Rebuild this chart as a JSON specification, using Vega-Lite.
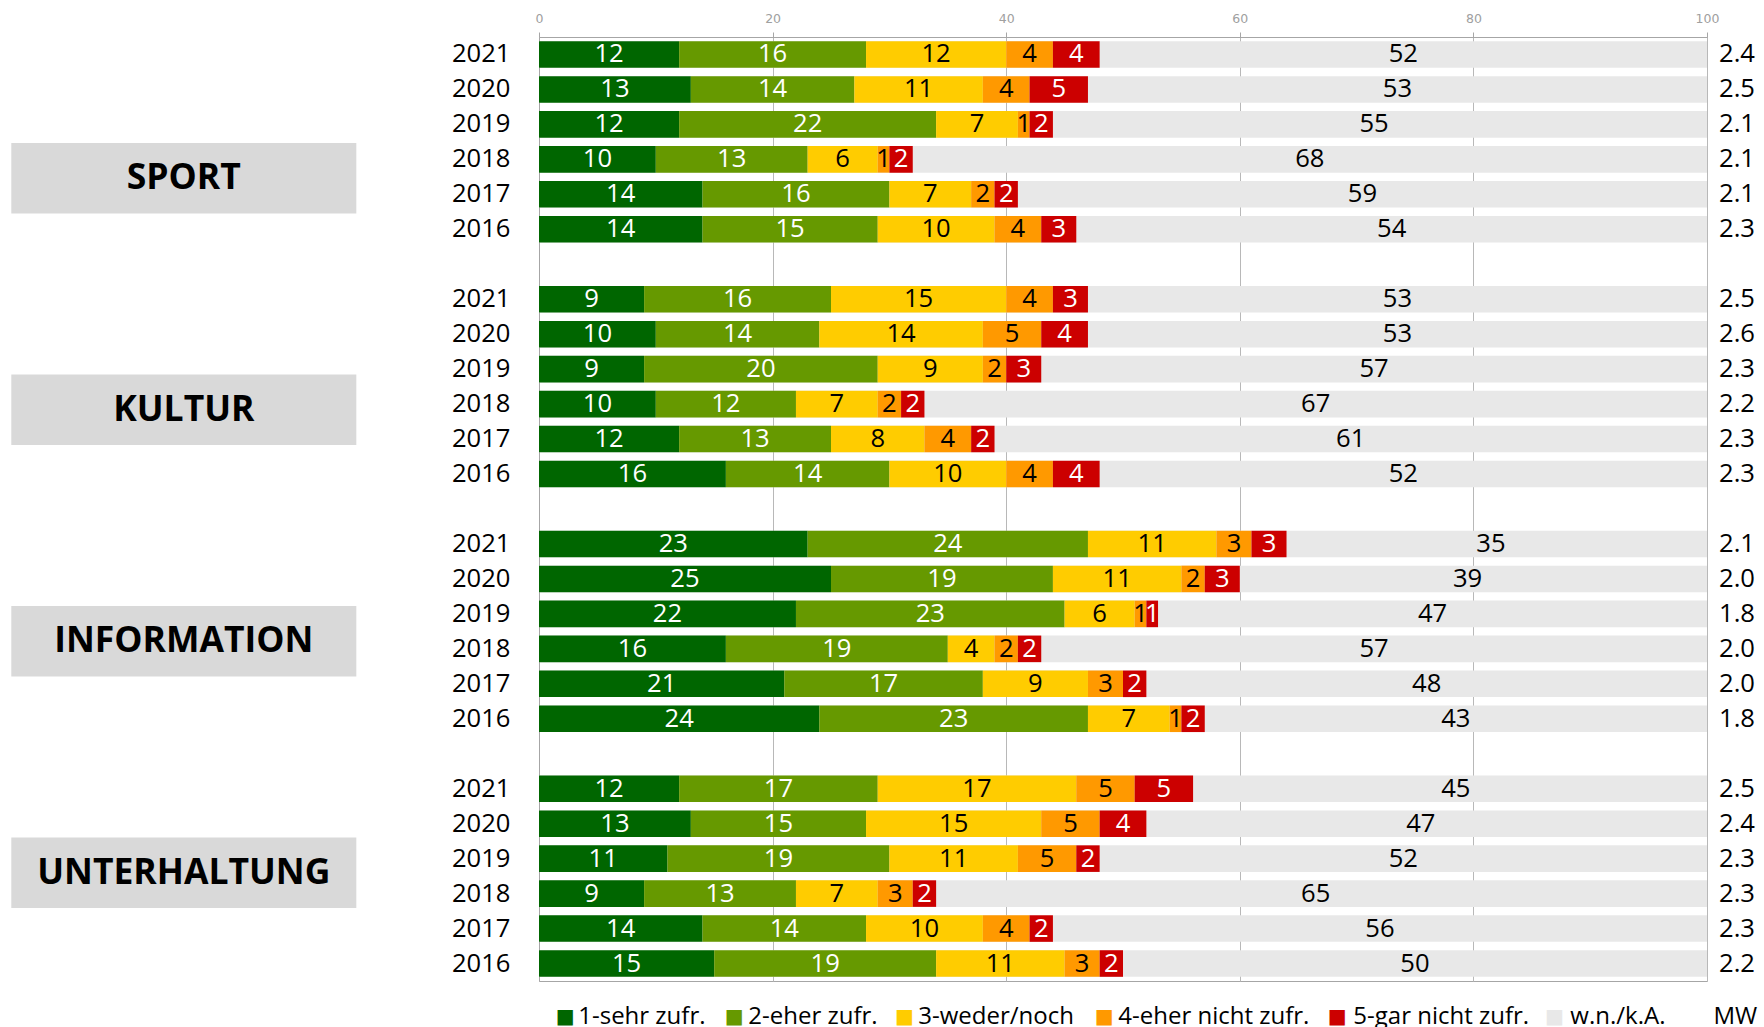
{
  "$schema": "https://vega.github.io/schema/vega-lite/v6.json",
  "autosize": {"type": "none"},
  "padding": {"left": 539, "top": 37, "right": 57, "bottom": 46},
  "width": 1168,
  "height": 944,
  "background": "white",
  "config": {"view": {"stroke": "#a6a6a6", "strokeWidth": 1}, "font": "Open Sans"},
  "data": {"values": [
      {"row":"SPORT 2021","cat":"1-sehr zufr.","v":12},{"row":"SPORT 2021","cat":"2-eher zufr.","v":16},{"row":"SPORT 2021","cat":"3-weder/noch","v":12},{"row":"SPORT 2021","cat":"4-eher nicht zufr.","v":4},{"row":"SPORT 2021","cat":"5-gar nicht zufr.","v":4},{"row":"SPORT 2021","cat":"w.n./k.A.","v":52},
      {"row":"SPORT 2020","cat":"1-sehr zufr.","v":13},{"row":"SPORT 2020","cat":"2-eher zufr.","v":14},{"row":"SPORT 2020","cat":"3-weder/noch","v":11},{"row":"SPORT 2020","cat":"4-eher nicht zufr.","v":4},{"row":"SPORT 2020","cat":"5-gar nicht zufr.","v":5},{"row":"SPORT 2020","cat":"w.n./k.A.","v":53},
      {"row":"SPORT 2019","cat":"1-sehr zufr.","v":12},{"row":"SPORT 2019","cat":"2-eher zufr.","v":22},{"row":"SPORT 2019","cat":"3-weder/noch","v":7},{"row":"SPORT 2019","cat":"4-eher nicht zufr.","v":1},{"row":"SPORT 2019","cat":"5-gar nicht zufr.","v":2},{"row":"SPORT 2019","cat":"w.n./k.A.","v":55},
      {"row":"SPORT 2018","cat":"1-sehr zufr.","v":10},{"row":"SPORT 2018","cat":"2-eher zufr.","v":13},{"row":"SPORT 2018","cat":"3-weder/noch","v":6},{"row":"SPORT 2018","cat":"4-eher nicht zufr.","v":1},{"row":"SPORT 2018","cat":"5-gar nicht zufr.","v":2},{"row":"SPORT 2018","cat":"w.n./k.A.","v":68},
      {"row":"SPORT 2017","cat":"1-sehr zufr.","v":14},{"row":"SPORT 2017","cat":"2-eher zufr.","v":16},{"row":"SPORT 2017","cat":"3-weder/noch","v":7},{"row":"SPORT 2017","cat":"4-eher nicht zufr.","v":2},{"row":"SPORT 2017","cat":"5-gar nicht zufr.","v":2},{"row":"SPORT 2017","cat":"w.n./k.A.","v":59},
      {"row":"SPORT 2016","cat":"1-sehr zufr.","v":14},{"row":"SPORT 2016","cat":"2-eher zufr.","v":15},{"row":"SPORT 2016","cat":"3-weder/noch","v":10},{"row":"SPORT 2016","cat":"4-eher nicht zufr.","v":4},{"row":"SPORT 2016","cat":"5-gar nicht zufr.","v":3},{"row":"SPORT 2016","cat":"w.n./k.A.","v":54},
      {"row":"KULTUR 2021","cat":"1-sehr zufr.","v":9},{"row":"KULTUR 2021","cat":"2-eher zufr.","v":16},{"row":"KULTUR 2021","cat":"3-weder/noch","v":15},{"row":"KULTUR 2021","cat":"4-eher nicht zufr.","v":4},{"row":"KULTUR 2021","cat":"5-gar nicht zufr.","v":3},{"row":"KULTUR 2021","cat":"w.n./k.A.","v":53},
      {"row":"KULTUR 2020","cat":"1-sehr zufr.","v":10},{"row":"KULTUR 2020","cat":"2-eher zufr.","v":14},{"row":"KULTUR 2020","cat":"3-weder/noch","v":14},{"row":"KULTUR 2020","cat":"4-eher nicht zufr.","v":5},{"row":"KULTUR 2020","cat":"5-gar nicht zufr.","v":4},{"row":"KULTUR 2020","cat":"w.n./k.A.","v":53},
      {"row":"KULTUR 2019","cat":"1-sehr zufr.","v":9},{"row":"KULTUR 2019","cat":"2-eher zufr.","v":20},{"row":"KULTUR 2019","cat":"3-weder/noch","v":9},{"row":"KULTUR 2019","cat":"4-eher nicht zufr.","v":2},{"row":"KULTUR 2019","cat":"5-gar nicht zufr.","v":3},{"row":"KULTUR 2019","cat":"w.n./k.A.","v":57},
      {"row":"KULTUR 2018","cat":"1-sehr zufr.","v":10},{"row":"KULTUR 2018","cat":"2-eher zufr.","v":12},{"row":"KULTUR 2018","cat":"3-weder/noch","v":7},{"row":"KULTUR 2018","cat":"4-eher nicht zufr.","v":2},{"row":"KULTUR 2018","cat":"5-gar nicht zufr.","v":2},{"row":"KULTUR 2018","cat":"w.n./k.A.","v":67},
      {"row":"KULTUR 2017","cat":"1-sehr zufr.","v":12},{"row":"KULTUR 2017","cat":"2-eher zufr.","v":13},{"row":"KULTUR 2017","cat":"3-weder/noch","v":8},{"row":"KULTUR 2017","cat":"4-eher nicht zufr.","v":4},{"row":"KULTUR 2017","cat":"5-gar nicht zufr.","v":2},{"row":"KULTUR 2017","cat":"w.n./k.A.","v":61},
      {"row":"KULTUR 2016","cat":"1-sehr zufr.","v":16},{"row":"KULTUR 2016","cat":"2-eher zufr.","v":14},{"row":"KULTUR 2016","cat":"3-weder/noch","v":10},{"row":"KULTUR 2016","cat":"4-eher nicht zufr.","v":4},{"row":"KULTUR 2016","cat":"5-gar nicht zufr.","v":4},{"row":"KULTUR 2016","cat":"w.n./k.A.","v":52},
      {"row":"INFORMATION 2021","cat":"1-sehr zufr.","v":23},{"row":"INFORMATION 2021","cat":"2-eher zufr.","v":24},{"row":"INFORMATION 2021","cat":"3-weder/noch","v":11},{"row":"INFORMATION 2021","cat":"4-eher nicht zufr.","v":3},{"row":"INFORMATION 2021","cat":"5-gar nicht zufr.","v":3},{"row":"INFORMATION 2021","cat":"w.n./k.A.","v":35},
      {"row":"INFORMATION 2020","cat":"1-sehr zufr.","v":25},{"row":"INFORMATION 2020","cat":"2-eher zufr.","v":19},{"row":"INFORMATION 2020","cat":"3-weder/noch","v":11},{"row":"INFORMATION 2020","cat":"4-eher nicht zufr.","v":2},{"row":"INFORMATION 2020","cat":"5-gar nicht zufr.","v":3},{"row":"INFORMATION 2020","cat":"w.n./k.A.","v":39},
      {"row":"INFORMATION 2019","cat":"1-sehr zufr.","v":22},{"row":"INFORMATION 2019","cat":"2-eher zufr.","v":23},{"row":"INFORMATION 2019","cat":"3-weder/noch","v":6},{"row":"INFORMATION 2019","cat":"4-eher nicht zufr.","v":1},{"row":"INFORMATION 2019","cat":"5-gar nicht zufr.","v":1},{"row":"INFORMATION 2019","cat":"w.n./k.A.","v":47},
      {"row":"INFORMATION 2018","cat":"1-sehr zufr.","v":16},{"row":"INFORMATION 2018","cat":"2-eher zufr.","v":19},{"row":"INFORMATION 2018","cat":"3-weder/noch","v":4},{"row":"INFORMATION 2018","cat":"4-eher nicht zufr.","v":2},{"row":"INFORMATION 2018","cat":"5-gar nicht zufr.","v":2},{"row":"INFORMATION 2018","cat":"w.n./k.A.","v":57},
      {"row":"INFORMATION 2017","cat":"1-sehr zufr.","v":21},{"row":"INFORMATION 2017","cat":"2-eher zufr.","v":17},{"row":"INFORMATION 2017","cat":"3-weder/noch","v":9},{"row":"INFORMATION 2017","cat":"4-eher nicht zufr.","v":3},{"row":"INFORMATION 2017","cat":"5-gar nicht zufr.","v":2},{"row":"INFORMATION 2017","cat":"w.n./k.A.","v":48},
      {"row":"INFORMATION 2016","cat":"1-sehr zufr.","v":24},{"row":"INFORMATION 2016","cat":"2-eher zufr.","v":23},{"row":"INFORMATION 2016","cat":"3-weder/noch","v":7},{"row":"INFORMATION 2016","cat":"4-eher nicht zufr.","v":1},{"row":"INFORMATION 2016","cat":"5-gar nicht zufr.","v":2},{"row":"INFORMATION 2016","cat":"w.n./k.A.","v":43},
      {"row":"UNTERHALTUNG 2021","cat":"1-sehr zufr.","v":12},{"row":"UNTERHALTUNG 2021","cat":"2-eher zufr.","v":17},{"row":"UNTERHALTUNG 2021","cat":"3-weder/noch","v":17},{"row":"UNTERHALTUNG 2021","cat":"4-eher nicht zufr.","v":5},{"row":"UNTERHALTUNG 2021","cat":"5-gar nicht zufr.","v":5},{"row":"UNTERHALTUNG 2021","cat":"w.n./k.A.","v":45},
      {"row":"UNTERHALTUNG 2020","cat":"1-sehr zufr.","v":13},{"row":"UNTERHALTUNG 2020","cat":"2-eher zufr.","v":15},{"row":"UNTERHALTUNG 2020","cat":"3-weder/noch","v":15},{"row":"UNTERHALTUNG 2020","cat":"4-eher nicht zufr.","v":5},{"row":"UNTERHALTUNG 2020","cat":"5-gar nicht zufr.","v":4},{"row":"UNTERHALTUNG 2020","cat":"w.n./k.A.","v":47},
      {"row":"UNTERHALTUNG 2019","cat":"1-sehr zufr.","v":11},{"row":"UNTERHALTUNG 2019","cat":"2-eher zufr.","v":19},{"row":"UNTERHALTUNG 2019","cat":"3-weder/noch","v":11},{"row":"UNTERHALTUNG 2019","cat":"4-eher nicht zufr.","v":5},{"row":"UNTERHALTUNG 2019","cat":"5-gar nicht zufr.","v":2},{"row":"UNTERHALTUNG 2019","cat":"w.n./k.A.","v":52},
      {"row":"UNTERHALTUNG 2018","cat":"1-sehr zufr.","v":9},{"row":"UNTERHALTUNG 2018","cat":"2-eher zufr.","v":13},{"row":"UNTERHALTUNG 2018","cat":"3-weder/noch","v":7},{"row":"UNTERHALTUNG 2018","cat":"4-eher nicht zufr.","v":3},{"row":"UNTERHALTUNG 2018","cat":"5-gar nicht zufr.","v":2},{"row":"UNTERHALTUNG 2018","cat":"w.n./k.A.","v":65},
      {"row":"UNTERHALTUNG 2017","cat":"1-sehr zufr.","v":14},{"row":"UNTERHALTUNG 2017","cat":"2-eher zufr.","v":14},{"row":"UNTERHALTUNG 2017","cat":"3-weder/noch","v":10},{"row":"UNTERHALTUNG 2017","cat":"4-eher nicht zufr.","v":4},{"row":"UNTERHALTUNG 2017","cat":"5-gar nicht zufr.","v":2},{"row":"UNTERHALTUNG 2017","cat":"w.n./k.A.","v":56},
      {"row":"UNTERHALTUNG 2016","cat":"1-sehr zufr.","v":15},{"row":"UNTERHALTUNG 2016","cat":"2-eher zufr.","v":19},{"row":"UNTERHALTUNG 2016","cat":"3-weder/noch","v":11},{"row":"UNTERHALTUNG 2016","cat":"4-eher nicht zufr.","v":3},{"row":"UNTERHALTUNG 2016","cat":"5-gar nicht zufr.","v":2},{"row":"UNTERHALTUNG 2016","cat":"w.n./k.A.","v":50}
  ]},
  "resolve": {"scale": {"y": "independent"}},
  "layer": [
    {
      "data": {"values": [{"group":"SPORT"},{"group":"KULTUR"},{"group":"INFORMATION"},{"group":"UNTERHALTUNG"}]},
      "encoding": {
        "y": {"field": "group", "type": "nominal",
          "scale": {"domain": ["SPORT","KULTUR","INFORMATION","UNTERHALTUNG"], "paddingInner": 0.695, "paddingOuter": 0.3864, "align": 0.5925},
          "axis": null}
      },
      "layer": [
        {"mark": {"type": "bar", "color": "#D9D9D9", "clip": false},
         "encoding": {
           "x": {"datum": -45.18, "type": "quantitative",
             "scale": {"domain": [0, 100], "nice": false},
             "axis": {"orient": "top", "values": [0, 20, 40, 60, 80, 100], "title": null, "tickSize": 5, "tickColor": "#a6a6a6",
               "domainColor": "#a6a6a6", "labelFont": "DejaVu Sans", "labelFontSize": 12.5, "labelColor": "#a0a0a0",
               "labelPadding": 6.5, "labelFlush": false, "grid": true, "gridColor": "#b8b8b8"}},
           "x2": {"datum": -15.64}}},
        {"mark": {"type": "text", "font": "Open Sans", "fontWeight": "bold", "fontSize": 35.5, "color": "#000000", "baseline": "middle", "align": "center", "clip": false},
         "encoding": {"x": {"datum": -30.41, "type": "quantitative"}, "text": {"field": "group", "type": "nominal"}}}
      ]
    },
    {
      "encoding": {
        "y": {"field": "row", "type": "nominal",
          "scale": {"domain": ["SPORT 2021","SPORT 2020","SPORT 2019","SPORT 2018","SPORT 2017","SPORT 2016","gap1","KULTUR 2021","KULTUR 2020","KULTUR 2019","KULTUR 2018","KULTUR 2017","KULTUR 2016","gap2","INFORMATION 2021","INFORMATION 2020","INFORMATION 2019","INFORMATION 2018","INFORMATION 2017","INFORMATION 2016","gap3","UNTERHALTUNG 2021","UNTERHALTUNG 2020","UNTERHALTUNG 2019","UNTERHALTUNG 2018","UNTERHALTUNG 2017","UNTERHALTUNG 2016"],
            "paddingInner": 0.24, "paddingOuter": 0.12},
          "axis": {"title": null, "orient": "left", "labelExpr": "length(datum.value) > 4 ? slice(datum.value, -4) : ''",
            "labelFont": "Open Sans", "labelFontSize": 25.6, "labelColor": "#000000", "labelPadding": 29,
            "ticks": false, "domainColor": "#a6a6a6", "grid": false}}
      },
      "layer": [
        {
          "data": {"values": [
            {"row":"SPORT 2021","mw":"2.4"},{"row":"SPORT 2020","mw":"2.5"},{"row":"SPORT 2019","mw":"2.1"},{"row":"SPORT 2018","mw":"2.1"},{"row":"SPORT 2017","mw":"2.1"},{"row":"SPORT 2016","mw":"2.3"},
            {"row":"KULTUR 2021","mw":"2.5"},{"row":"KULTUR 2020","mw":"2.6"},{"row":"KULTUR 2019","mw":"2.3"},{"row":"KULTUR 2018","mw":"2.2"},{"row":"KULTUR 2017","mw":"2.3"},{"row":"KULTUR 2016","mw":"2.3"},
            {"row":"INFORMATION 2021","mw":"2.1"},{"row":"INFORMATION 2020","mw":"2.0"},{"row":"INFORMATION 2019","mw":"1.8"},{"row":"INFORMATION 2018","mw":"2.0"},{"row":"INFORMATION 2017","mw":"2.0"},{"row":"INFORMATION 2016","mw":"1.8"},
            {"row":"UNTERHALTUNG 2021","mw":"2.5"},{"row":"UNTERHALTUNG 2020","mw":"2.4"},{"row":"UNTERHALTUNG 2019","mw":"2.3"},{"row":"UNTERHALTUNG 2018","mw":"2.3"},{"row":"UNTERHALTUNG 2017","mw":"2.3"},{"row":"UNTERHALTUNG 2016","mw":"2.2"}
          ]},
          "mark": {"type": "text", "font": "Open Sans", "fontSize": 25.6, "baseline": "middle", "align": "left", "dx": 12, "color": "#000000", "clip": false},
          "encoding": {
            "x": {"datum": 100, "type": "quantitative"},
            "text": {"field": "mw", "type": "nominal"}
          }
        },
        {
          "data": {"values": [{"row": "UNTERHALTUNG 2016"}]},
          "layer": [
            {"mark": {"type": "text", "text": "■", "font": "DejaVu Sans", "fontSize": 20, "color": "#006600", "baseline": "middle", "align": "center", "dy": 53.4, "clip": false}, "encoding": {"x": {"datum": 2.25, "type": "quantitative"}}},
            {"mark": {"type": "text", "text": "1-sehr zufr.", "font": "Open Sans", "fontSize": 24, "color": "#000000", "baseline": "middle", "align": "left", "dy": 53.4, "clip": false}, "encoding": {"x": {"datum": 3.36, "type": "quantitative"}}},
            {"mark": {"type": "text", "text": "■", "font": "DejaVu Sans", "fontSize": 20, "color": "#669900", "baseline": "middle", "align": "center", "dy": 53.4, "clip": false}, "encoding": {"x": {"datum": 16.72, "type": "quantitative"}}},
            {"mark": {"type": "text", "text": "2-eher zufr.", "font": "Open Sans", "fontSize": 24, "color": "#000000", "baseline": "middle", "align": "left", "dy": 53.4, "clip": false}, "encoding": {"x": {"datum": 17.92, "type": "quantitative"}}},
            {"mark": {"type": "text", "text": "■", "font": "DejaVu Sans", "fontSize": 20, "color": "#FFCC00", "baseline": "middle", "align": "center", "dy": 53.4, "clip": false}, "encoding": {"x": {"datum": 31.28, "type": "quantitative"}}},
            {"mark": {"type": "text", "text": "3-weder/noch", "font": "Open Sans", "fontSize": 24, "color": "#000000", "baseline": "middle", "align": "left", "dy": 53.4, "clip": false}, "encoding": {"x": {"datum": 32.47, "type": "quantitative"}}},
            {"mark": {"type": "text", "text": "■", "font": "DejaVu Sans", "fontSize": 20, "color": "#FF9900", "baseline": "middle", "align": "center", "dy": 53.4, "clip": false}, "encoding": {"x": {"datum": 48.4, "type": "quantitative"}}},
            {"mark": {"type": "text", "text": "4-eher nicht zufr.", "font": "Open Sans", "fontSize": 24, "color": "#000000", "baseline": "middle", "align": "left", "dy": 53.4, "clip": false}, "encoding": {"x": {"datum": 49.6, "type": "quantitative"}}},
            {"mark": {"type": "text", "text": "■", "font": "DejaVu Sans", "fontSize": 20, "color": "#CC0000", "baseline": "middle", "align": "center", "dy": 53.4, "clip": false}, "encoding": {"x": {"datum": 68.35, "type": "quantitative"}}},
            {"mark": {"type": "text", "text": "5-gar nicht zufr.", "font": "Open Sans", "fontSize": 24, "color": "#000000", "baseline": "middle", "align": "left", "dy": 53.4, "clip": false}, "encoding": {"x": {"datum": 69.72, "type": "quantitative"}}},
            {"mark": {"type": "text", "text": "■", "font": "DejaVu Sans", "fontSize": 20, "color": "#E8E8E8", "baseline": "middle", "align": "center", "dy": 53.4, "clip": false}, "encoding": {"x": {"datum": 86.93, "type": "quantitative"}}},
            {"mark": {"type": "text", "text": "w.n./k.A.", "font": "Open Sans", "fontSize": 24, "color": "#000000", "baseline": "middle", "align": "left", "dy": 53.4, "clip": false}, "encoding": {"x": {"datum": 88.3, "type": "quantitative"}}},
            {"mark": {"type": "text", "text": "MW", "font": "Open Sans", "fontSize": 24, "color": "#000000", "baseline": "middle", "align": "left", "dy": 53.4, "clip": false}, "encoding": {"x": {"datum": 100.55, "type": "quantitative"}}}
          ]
        },
        {
          "transform": [
            {"stack": "v", "groupby": ["row"], "sort": [{"field": "cat", "order": "ascending"}], "as": ["v0", "v1"]}
          ],
          "layer": [
            {
              "transform": [{"filter": "datum.cat == 'w.n./k.A.'"}],
              "mark": {"type": "bar", "color": "#E8E8E8"},
              "encoding": {"x": {"datum": 0, "type": "quantitative"}, "x2": {"datum": 100}}
            },
            {"transform": [{"filter": "datum.cat == '1-sehr zufr.'"}], "mark": {"type": "bar", "color": "#006600"},
             "encoding": {"x": {"field": "v0", "type": "quantitative"}, "x2": {"field": "v1"}}},
            {"transform": [{"filter": "datum.cat == '2-eher zufr.'"}], "mark": {"type": "bar", "color": "#669900"},
             "encoding": {"x": {"field": "v0", "type": "quantitative"}, "x2": {"field": "v1"}}},
            {"transform": [{"filter": "datum.cat == '3-weder/noch'"}], "mark": {"type": "bar", "color": "#FFCC00"},
             "encoding": {"x": {"field": "v0", "type": "quantitative"}, "x2": {"field": "v1"}}},
            {"transform": [{"filter": "datum.cat == '4-eher nicht zufr.'"}], "mark": {"type": "bar", "color": "#FF9900"},
             "encoding": {"x": {"field": "v0", "type": "quantitative"}, "x2": {"field": "v1"}}},
            {"transform": [{"filter": "datum.cat == '5-gar nicht zufr.'"}], "mark": {"type": "bar", "color": "#CC0000"},
             "encoding": {"x": {"field": "v0", "type": "quantitative"}, "x2": {"field": "v1"}}},
            {
              "transform": [
                {"fold": ["v0", "v1"], "as": ["edge", "pos"]},
                {"aggregate": [{"op": "mean", "field": "pos", "as": "mid"}], "groupby": ["row", "cat", "v"]},
                {"filter": "datum.cat == '1-sehr zufr.' || datum.cat == '2-eher zufr.' || datum.cat == '5-gar nicht zufr.'"}
              ],
              "mark": {"type": "text", "font": "Open Sans", "fontSize": 25.6, "baseline": "middle", "align": "center", "color": "#FFFFFF"},
              "encoding": {"x": {"field": "mid", "type": "quantitative"}, "text": {"field": "v", "type": "nominal"}}
            },
            {
              "transform": [
                {"fold": ["v0", "v1"], "as": ["edge", "pos"]},
                {"aggregate": [{"op": "mean", "field": "pos", "as": "mid"}], "groupby": ["row", "cat", "v"]},
                {"filter": "datum.cat == '3-weder/noch' || datum.cat == '4-eher nicht zufr.' || datum.cat == 'w.n./k.A.'"}
              ],
              "mark": {"type": "text", "font": "Open Sans", "fontSize": 25.6, "baseline": "middle", "align": "center", "color": "#000000"},
              "encoding": {"x": {"field": "mid", "type": "quantitative"}, "text": {"field": "v", "type": "nominal"}}
            }
          ]
        }
      ]
    }
  ]
}
